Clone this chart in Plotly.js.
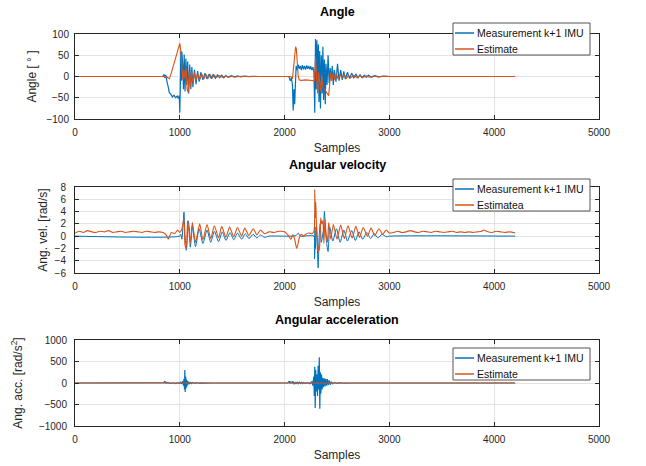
<!DOCTYPE html>
<html><head><meta charset="utf-8">
<script src="https://cdn.plot.ly/plotly-3.0.1.min.js"></script>
<style>html,body{margin:0;padding:0;background:#fff}#chart{width:646px;height:466px}</style>
</head><body><div id="chart"></div><script>
// ---- data: [sample, value] pairs ----
const angleMeasurement = [[0,0],[840,0],[850,5],[858,-3],[866,4],[872,-8],[880,-15],[890,-25],[900,-38],[915,-42],[930,-48],[945,-44],[960,-50],[975,-46],[985,-52],[995,-45],[1000,-85],[1005,-20],[1010,60],[1015,-10],[1020,58],[1028,25],[1035,-30],[1042,52],[1050,-35],[1058,42],[1066,-20],[1075,35],[1085,-40],[1095,28],[1105,-30],[1115,22],[1125,-25],[1140,16],[1155,-18],[1170,13],[1185,-12],[1200,10],[1220,-8],[1240,8],[1260,-6],[1280,6],[1300,-5],[1320,5],[1340,-4],[1360,4],[1380,-3],[1400,3],[1420,-3],[1440,2],[1460,-2],[1490,2],[1520,-1.5],[1550,1.5],[1580,-1],[1620,1],[1660,-0.5],[1700,0.5],[1750,0],[2040,0],[2045,-5],[2055,-10],[2065,-3],[2075,-20],[2082,-80],[2090,-30],[2096,-65],[2102,10],[2110,25],[2120,15],[2130,28],[2140,18],[2150,25],[2160,15],[2170,27],[2180,17],[2190,25],[2200,16],[2210,26],[2220,18],[2230,25],[2240,17],[2250,24],[2260,15],[2270,22],[2280,10],[2288,-85],[2295,88],[2302,-30],[2308,85],[2315,-20],[2322,75],[2328,-60],[2335,60],[2342,-75],[2350,50],[2358,-40],[2365,70],[2372,-55],[2380,40],[2388,-65],[2395,30],[2405,-20],[2415,50],[2425,-15],[2435,20],[2445,-10],[2455,25],[2465,-20],[2475,15],[2490,-12],[2505,30],[2520,-10],[2535,15],[2550,-8],[2565,12],[2580,-6],[2600,10],[2620,-5],[2640,8],[2660,-4],[2680,6],[2700,-3],[2720,4],[2740,-3],[2760,3],[2780,-2],[2800,3],[2830,-2],[2860,2],[2900,-1],[2950,1],[3000,0],[4200,0]];
const angleEstimate = [[0,0],[870,0],[885,-3],[900,-5],[915,5],[940,25],[960,45],[980,62],[1000,78],[1010,60],[1020,10],[1030,-8],[1040,15],[1050,-5],[1060,20],[1070,-30],[1080,-38],[1090,10],[1100,-25],[1110,12],[1125,-15],[1140,10],[1155,-10],[1170,8],[1190,-8],[1210,6],[1230,-6],[1250,5],[1270,-4],[1290,4],[1310,-3],[1330,3],[1350,-2],[1380,2],[1410,-2],[1440,1.5],[1470,-1.5],[1500,1],[1540,-1],[1580,0.5],[1650,0],[2060,0],[2075,-5],[2085,20],[2095,55],[2105,70],[2112,65],[2120,30],[2130,0],[2140,-8],[2160,-9],[2200,-8],[2240,-9],[2270,-8],[2285,-10],[2295,45],[2305,0],[2315,-40],[2325,10],[2335,-20],[2345,-35],[2355,5],[2365,-25],[2380,-30],[2395,-35],[2410,-40],[2420,-45],[2430,-20],[2440,10],[2450,-10],[2465,8],[2480,-8],[2495,7],[2510,-6],[2530,5],[2550,-5],[2570,4],[2590,-4],[2610,3],[2630,-3],[2660,2.5],[2690,-2.5],[2720,2],[2750,-2],[2780,1.5],[2810,-1.5],[2850,1],[2890,-1],[2930,0.5],[3000,0],[4200,0]];

const velMeasurement = [[0,0],[1000,0],[1010,0.3],[1020,-0.5],[1030,1.5],[1040,3.9],[1048,0.5],[1055,-1],[1062,-2.3],[1070,-1],[1080,2.5],[1092,1],[1100,-1.8],[1110,-0.3],[1120,1.6],[1150,-1.7],[1185,1.2],[1220,-1.2],[1260,1.0],[1295,-1.0],[1330,0.8],[1370,-0.9],[1405,0.7],[1440,-0.7],[1480,0.6],[1515,-0.6],[1550,0.5],[1590,-0.5],[1625,0.4],[1660,-0.4],[1700,0.3],[1735,-0.3],[1770,0.2],[1810,-0.2],[1850,0],[2060,0],[2110,0.1],[2130,0.5],[2150,0],[2280,0],[2285,-3.7],[2290,1.5],[2295,-2],[2305,1.8],[2320,-5.2],[2330,0],[2340,2],[2350,-1],[2370,1],[2380,4],[2390,1],[2400,-1],[2415,-2.5],[2430,1.5],[2460,-0.8],[2495,1.2],[2530,-1],[2565,1.0],[2600,-0.8],[2640,0.9],[2675,-0.7],[2710,0.7],[2745,-0.5],[2785,0.6],[2820,-0.4],[2855,0.4],[2890,-0.3],[2930,0.3],[2970,-0.1],[3000,0],[4200,0]];
const velEstimate = [[0,0.5],[40,0.8],[80,0.6],[120,0.9],[160,0.7],[200,0.6],[240,0.8],[280,0.7],[320,0.9],[360,0.6],[400,0.7],[440,0.8],[480,0.6],[520,0.7],[560,0.8],[600,0.7],[640,0.6],[680,0.8],[720,0.7],[760,0.6],[800,0.7],[840,0.6],[870,0.2],[890,-0.5],[905,0.1],[920,0.6],[950,0.4],[980,1.0],[1000,0.6],[1020,1.2],[1040,2.8],[1050,-1.5],[1062,-2.0],[1075,2.5],[1090,0.3],[1100,-1.2],[1120,2.2],[1150,-1.0],[1190,2.0],[1220,-0.6],[1260,1.9],[1295,-0.4],[1330,1.7],[1370,-0.3],[1400,1.6],[1440,-0.2],[1475,1.5],[1515,-0.1],[1550,1.4],[1590,0],[1620,1.3],[1660,0.1],[1700,1.2],[1735,0.2],[1770,1.0],[1810,0.4],[1850,0.7],[1900,0.6],[1950,0.8],[2000,0.7],[2040,0.0],[2060,-0.5],[2080,0.2],[2100,-0.8],[2115,-2.0],[2125,-1.5],[2140,-0.3],[2160,0.3],[2180,0.0],[2200,0.3],[2230,0.5],[2260,0.4],[2280,0.8],[2288,7.6],[2293,3],[2298,5.5],[2305,1],[2315,-1],[2325,-2.5],[2335,-1.5],[2345,3.0],[2355,2],[2365,2.5],[2375,-1.2],[2385,2.8],[2395,0.5],[2410,-1],[2420,2.2],[2440,-0.5],[2465,1.9],[2500,-0.5],[2535,1.8],[2570,-0.4],[2605,1.7],[2645,-0.3],[2680,1.6],[2715,-0.2],[2750,1.4],[2790,0],[2825,1.3],[2860,0.1],[2900,1.2],[2935,0.3],[2970,1.0],[3000,0.5],[3040,0.6],[3080,0.8],[3120,0.6],[3160,0.7],[3200,0.9],[3240,0.7],[3280,0.6],[3320,0.8],[3360,0.7],[3400,0.6],[3440,0.8],[3480,0.7],[3520,0.6],[3560,0.7],[3600,0.8],[3640,0.6],[3680,0.7],[3720,0.6],[3760,0.7],[3800,0.6],[3840,0.7],[3880,0.8],[3900,1.0],[3940,0.7],[3980,0.6],[4020,0.8],[4060,0.7],[4100,0.6],[4150,0.7],[4200,0.5]];

const accMeasurement = [[0,0],[840,0],[850,10],[855,40],[860,10],[865,30],[870,0],[880,15],[890,-5],[900,5],[920,-10],[940,5],[960,-15],[980,8],[1000,-10],[1010,20],[1020,-20],[1030,40],[1035,-60],[1040,100],[1045,-150],[1048,300],[1052,-210],[1056,150],[1060,-120],[1064,80],[1068,-80],[1072,50],[1078,-40],[1085,30],[1092,-25],[1100,20],[1110,-15],[1120,10],[1140,-10],[1160,8],[1180,-5],[1200,3],[1250,-2],[1300,0],[2030,0],[2040,20],[2045,40],[2050,-10],[2060,30],[2070,0],[2080,40],[2090,-30],[2100,20],[2110,-20],[2120,25],[2130,-15],[2140,20],[2150,-10],[2160,15],[2170,-15],[2180,10],[2200,-10],[2220,10],[2240,-15],[2260,30],[2270,-60],[2278,150],[2283,-300],[2288,380],[2292,-580],[2297,300],[2302,-200],[2308,200],[2314,-300],[2320,400],[2326,-150],[2331,600],[2336,-600],[2341,250],[2346,-250],[2352,200],[2358,-150],[2364,120],[2370,-100],[2378,110],[2385,-80],[2392,100],[2400,-60],[2408,90],[2416,-50],[2425,60],[2435,-40],[2445,30],[2460,-20],[2480,15],[2500,-10],[2530,8],[2560,-5],[2600,3],[2650,0],[4200,0]];
const accEstimate = [[0,0],[1000,0],[2000,0],[3000,0],[4200,0]];

const xTicks = [0,1000,2000,3000,4000,5000];
const angleTicks = [-100,-50,0,50,100];
const velTicks = [-6,-4,-2,0,2,4,6,8];
const accTicks = [-1000,-500,0,500,1000];
const subplotTitles = ['Angle','Angular velocity','Angular acceleration'];
const yTitles = ['Angle [ ° ]','Ang. vel. [rad/s]','Ang. acc. [rad/s<sup>2</sup>]'];
const legendNames = [['Measurement k+1 IMU','Estimate'],['Measurement k+1 IMU','Estimatea'],['Measurement k+1 IMU','Estimate']];

// ---- styling ----
const BLUE = '#0072BD', ORANGE = '#D95319', AX = '#262626';
const FONT = 'Liberation Sans, Arial, Helvetica, sans-serif';
const xs = p => p.map(d => d[0]);
const ys = p => p.map(d => d[1]);
const W = 646, H = 466;
const px = v => v / W, py = v => 1 - v / H;

const sets = [[angleMeasurement, angleEstimate],[velMeasurement, velEstimate],[accMeasurement, accEstimate]];
const traces = [];
sets.forEach((s, i) => {
  const sfx = i === 0 ? '' : String(i + 1);
  const shape = i === 1 ? 'spline' : 'linear';
  traces.push({x: xs(s[0]), y: ys(s[0]), type: 'scatter', mode: 'lines', name: legendNames[i][0],
    line: {color: BLUE, width: i === 1 ? 1 : 1.2, shape: shape, smoothing: 0.6}, xaxis: 'x' + sfx, yaxis: 'y' + sfx, hoverinfo: 'skip'});
  traces.push({x: xs(s[1]), y: ys(s[1]), type: 'scatter', mode: 'lines', name: legendNames[i][1],
    line: {color: ORANGE, width: 1.1, shape: shape, smoothing: 0.6}, xaxis: 'x' + sfx, yaxis: 'y' + sfx, hoverinfo: 'skip'});
});

const xDom = [px(75), px(599)];
const yDoms = [[py(119), py(34)], [py(273), py(187)], [py(426), py(340)]];
const yRanges = [[-100, 100], [-6, 8], [-1000, 1000]];
const yTickSets = [angleTicks, velTicks, accTicks];
const yTitleStandoff = [7, 4, 13];
const yLabelGap = [3, 6, 5];
const titleY = [12, 165, 320];
const legTop = [23, 179, 348];

const baseAxis = {
  showline: true, linecolor: AX, linewidth: 1, mirror: 'ticks', ticks: 'inside', ticklen: 4,
  tickcolor: AX, tickwidth: 1, showgrid: true, gridcolor: '#e3e3e3', gridwidth: 1, zeroline: false,
  tickfont: {family: FONT, size: 10, color: AX}, automargin: false
};

const layout = {
  width: W, height: H, margin: {l: 0, r: 0, t: 0, b: 0}, paper_bgcolor: '#fff', plot_bgcolor: '#fff',
  showlegend: false, font: {family: FONT, color: AX}, annotations: [], shapes: []
};

for (let i = 0; i < 3; i++) {
  const sfx = i === 0 ? '' : String(i + 1);
  layout['xaxis' + sfx] = Object.assign({}, baseAxis, {
    domain: xDom, range: [0, 5000], tickvals: xTicks, anchor: 'y' + sfx, ticklabelstandoff: 4,
    title: {text: 'Samples', font: {family: FONT, size: 12, color: AX}, standoff: 6}
  });
  layout['yaxis' + sfx] = Object.assign({}, baseAxis, {
    domain: yDoms[i], range: yRanges[i], tickvals: yTickSets[i], anchor: 'x' + sfx, ticklabelstandoff: yLabelGap[i],
    title: {text: yTitles[i], font: {family: FONT, size: 12, color: AX}, standoff: yTitleStandoff[i]}
  });
  layout.annotations.push({
    text: '<b>' + subplotTitles[i] + '</b>', xref: 'paper', yref: 'paper',
    x: (xDom[0] + xDom[1]) / 2, y: py(titleY[i]), xanchor: 'center', yanchor: 'middle',
    showarrow: false, font: {family: FONT, size: 12.5, color: '#000'}
  });
  // legend box drawn with shapes + text
  const t = legTop[i];
  layout.shapes.push({type: 'rect', xref: 'paper', yref: 'paper', x0: px(453), x1: px(590), y0: py(t), y1: py(t + 32),
    line: {color: '#555', width: 1}, fillcolor: '#fff', layer: 'above'});
  [[BLUE, t + 10], [ORANGE, t + 26]].forEach((e, k) => {
    layout.shapes.push({type: 'line', xref: 'paper', yref: 'paper', x0: px(455), x1: px(474), y0: py(e[1]), y1: py(e[1]),
      line: {color: e[0], width: 1.5}, layer: 'above'});
    layout.annotations.push({text: legendNames[i][k], xref: 'paper', yref: 'paper', x: px(475), y: py(e[1]),
      xanchor: 'left', yanchor: 'middle', showarrow: false, font: {family: FONT, size: 10.5, color: '#111'}});
  });
}

Plotly.newPlot('chart', traces, layout, {displayModeBar: false, staticPlot: true});
</script></body></html>
